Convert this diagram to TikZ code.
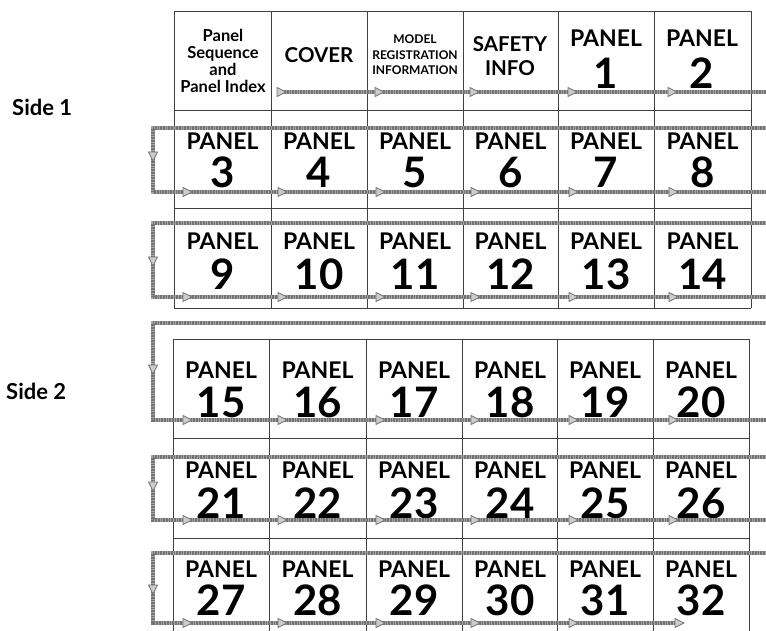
\documentclass[tikz,border=0pt]{standalone}
\usepackage{fontspec}
\setmainfont{Lato}
\tikzset{
  grid/.style={draw=black!75, line width=0.9pt},
  flow/.style={draw=black!35, line width=3.6pt},
  flowtex/.style={draw=black!55, line width=3.6pt, dash pattern=on 0.8pt off 0.8pt},
  tristyle/.style={draw=black!55, fill=black!20, line width=0.8pt},
  rtri/.pic={\path[tristyle] (-5,-4.5) -- (4,0) -- (-5,4.5) -- cycle;},
  dtri/.pic={\path[tristyle] (-4.5,-5) -- (0,4) -- (4.5,-5) -- cycle;},
  pword/.style={font=\bfseries\fontsize{23}{23}\selectfont, anchor=base, inner sep=0pt},
  pnum/.style={font=\bfseries\fontsize{42}{42}\selectfont, anchor=base, inner sep=0pt},
  sidelbl/.style={font=\bfseries\fontsize{22}{22}\selectfont, anchor=base west, inner sep=0pt},
}
\begin{document}
\begin{tikzpicture}[x=1pt,y=-1pt]
\useasboundingbox (0,0) rectangle (766,631);
\fill[white] (0,0) rectangle (766,631);

% ---- grids ----
\foreach \x in {174,271,367,463,558,654,751} \draw[grid] (\x,11) -- (\x,308);
\foreach \y in {11,110,208,308} \draw[grid] (174,\y) -- (751,\y);
\foreach \x in {173,269,366,462,557,653,749} \draw[grid] (\x,339) -- (\x,631);
\foreach \y in {339,438,538} \draw[grid] (173,\y) -- (749,\y);

% ---- side labels ----
\node[sidelbl] (s1) at (12,116) {Side 1};
\node[sidelbl] (s2) at (6,399) {Side 2};

% ---- header texts ----
\node[font=\bfseries\fontsize{16.5}{17}\selectfont, align=center, anchor=base, inner sep=0pt] (hidx) at (223,93) {Panel\\Sequence\\and\\Panel Index};
\node[font=\bfseries\fontsize{20.5}{20}\selectfont, anchor=base, inner sep=0pt] (hcov) at (319,63) {COVER};
\node[font=\bfseries\fontsize{12}{15.5}\selectfont, align=center, anchor=base, inner sep=0pt] (hmod) at (415,75) {MODEL\\REGISTRATION\\INFORMATION};
\node[font=\bfseries\fontsize{20.5}{24}\selectfont, align=center, anchor=base, inner sep=0pt] (hsaf) at (510,76) {SAFETY\\INFO};
\node[pword] (w1) at (606,47) {PANEL};
\node[pnum] (n1) at (606,89) {1};
\node[pword] (w2) at (702,47) {PANEL};
\node[pnum] (n2) at (702,89) {2};

% ---- panels ----
\foreach \r/\wy/\ny/\first in {2/150/188/3, 3/250/289/9} {
  \foreach \x [count=\i from 0] in {222.5,319,415,510.5,606,702.5} {
    \pgfmathtruncatemacro{\num}{\first+\i}
    \node[pword] (w\num) at (\x,\wy) {PANEL};
    \node[pnum] (n\num) at (\x,\ny) {\num};
  }
}
\foreach \r/\wy/\ny/\first in {4/378/417/15, 5/478/518/21, 6/577/615/27} {
  \foreach \x [count=\i from 0] in {221,317.5,414,510,605,701} {
    \pgfmathtruncatemacro{\num}{\first+\i}
    \node[pword] (w\num) at (\x,\wy) {PANEL};
    \node[pnum] (n\num) at (\x,\ny) {\num};
  }
}

% ---- flow lines ----
\coordinate (r1s) at (282,92);
\coordinate (r1e) at (770,92);
\foreach \st in {flow,flowtex} \draw[\st] (r1s) -- (r1e);
\foreach \k/\t/\b in {a/128/192, b/223/297, c/323/420, d/457/520} {
  \coordinate (Rt\k) at (770,\t);
  \coordinate (Lt\k) at (153,\t);
  \coordinate (Lb\k) at (153,\b);
  \coordinate (Rb\k) at (770,\b);
  \foreach \st in {flow,flowtex} \draw[\st] (Rt\k) -- (Lt\k) -- (Lb\k) -- (Rb\k);
}
\coordinate (Rte) at (770,553);
\coordinate (Lte) at (153,553);
\coordinate (Lbe) at (153,623);
\coordinate (Rbe) at (676,623);
\foreach \st in {flow,flowtex} \draw[\st] (Rte) -- (Lte) -- (Lbe) -- (Rbe);

% ---- arrow marks ----
\foreach \x in {282,380,475,573,673} \pic at (\x,92) {rtri};
\foreach \y in {192,297,420,520} {
  \foreach \x in {188,283,381,476,574,674} \pic at (\x,\y) {rtri};
}
\foreach \x in {188,283,381,476,574,680} \pic at (\x,623) {rtri};
\foreach \y in {157,262,370,487,590} \pic at (153,\y) {dtri};
\end{tikzpicture}
\end{document}
